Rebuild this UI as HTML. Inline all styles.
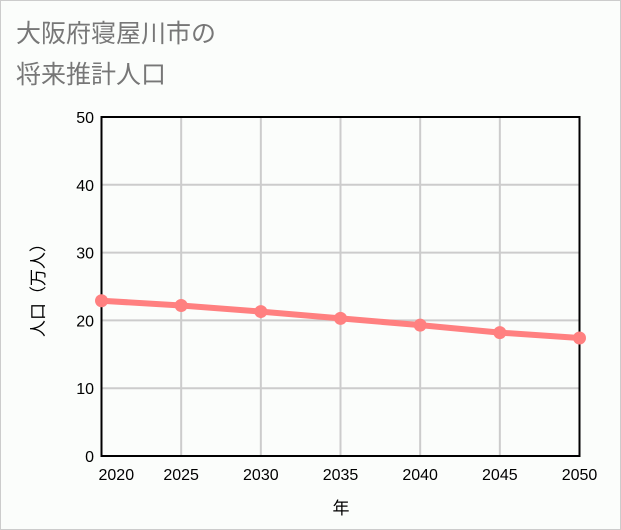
<!DOCTYPE html>
<html><head><meta charset="utf-8"><style>
html,body{margin:0;padding:0;}
body{width:621px;height:530px;background:#fbfdfb;font-family:"Liberation Sans","Noto Sans CJK JP",sans-serif;}
#frame{position:absolute;left:0;top:0;width:619px;height:528px;border:1px solid #ccc;}
</style></head><body>
<div id="frame"></div>
<svg id="chart" width="621" height="530" style="position:absolute;left:0;top:0">
<text x="16" y="42" font-size="25" fill="#777" font-family="'Liberation Sans','Noto Sans CJK JP',sans-serif">大阪府寝屋川市の</text>
<text x="16" y="83" font-size="25" fill="#777" font-family="'Liberation Sans','Noto Sans CJK JP',sans-serif">将来推計人口</text>
<g id="grid"></g><g id="axes"></g><g id="series"></g>
<text x="341" y="514" font-size="17" text-anchor="middle" font-family="'Liberation Sans','Noto Sans CJK JP',sans-serif">年</text>
<text transform="translate(44,286) rotate(-90)" font-size="17" text-anchor="middle" font-family="'Liberation Sans','Noto Sans CJK JP',sans-serif">人口（万人）</text>
</svg>
<script>
const years=[2020,2025,2030,2035,2040,2045,2050];
const population=[22.9,22.2,21.3,20.3,19.3,18.2,17.4];
const yTicks=[0,10,20,30,40,50];
const L=101.5,R=579.5,T=117,B=456;
const xs=v=>L+(v-2020)/30*(R-L);
const ys=v=>B-v/50*(B-T);
const NS="http://www.w3.org/2000/svg";
function mk(tag,attrs,parent,text){const e=document.createElementNS(NS,tag);for(const k in attrs)e.setAttribute(k,attrs[k]);if(text!=null)e.textContent=text;document.getElementById(parent).appendChild(e);return e;}
yTicks.forEach(t=>{
 const g=mk('line',{x1:L,x2:R,y1:ys(t),y2:ys(t),stroke:'#ccc','stroke-width':2},'grid');
 
 
 const lb=mk('text',{x:94,y:ys(t)+6,'font-size':16,'text-anchor':'end'},'axes',String(t));
 
 
});
years.forEach((y,i)=>{
 const g=mk('line',{x1:xs(y),x2:xs(y),y1:T,y2:B,stroke:'#ccc','stroke-width':2},'grid');
 
 
 const first=i===0;
 const lb=mk('text',{x:first?L-3:xs(y),y:480,'font-size':16,'text-anchor':first?'start':'middle'},'axes',String(y));
 
 
});
const box=mk('rect',{x:L,y:T,width:R-L,height:B-T,fill:'none',stroke:'#000','stroke-width':2},'axes');


const pl=mk('polyline',{points:years.map((y,i)=>xs(y)+','+ys(population[i])).join(' '),fill:'none',stroke:'#ff8080','stroke-width':6},'series');


years.forEach((y,i)=>{
 const c=mk('circle',{cx:xs(y),cy:ys(population[i]),r:6.5,fill:'#ff8080'},'series');
 
 
});
</script>
</body></html>
